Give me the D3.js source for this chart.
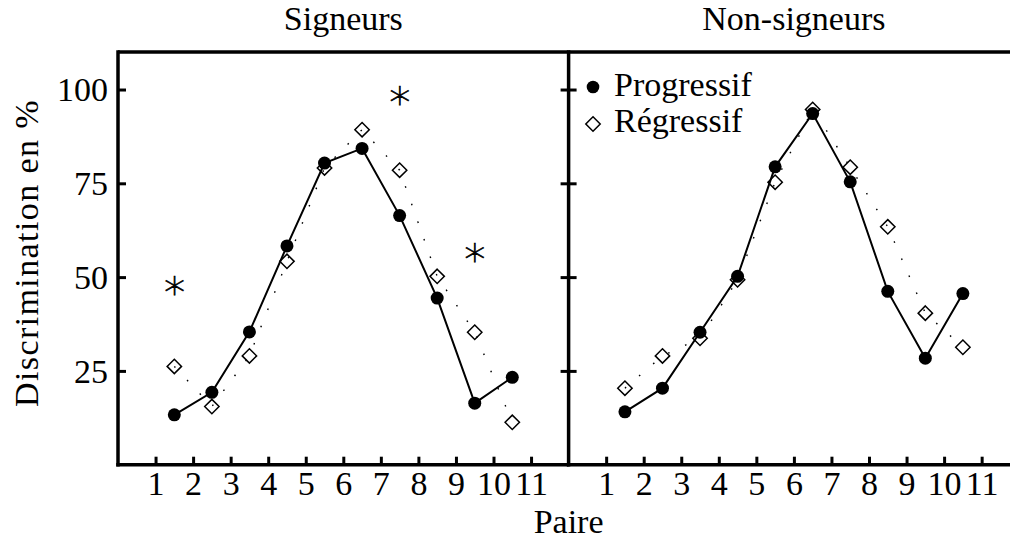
<!DOCTYPE html>
<html>
<head>
<meta charset="utf-8">
<script src="https://cdn.jsdelivr.net/npm/d3@7"></script>
<style>
  html, body { margin: 0; padding: 0; background: #fff; }
  svg { display: block; font-family: "Liberation Serif", "DejaVu Serif", serif; }
</style>
</head>
<body>
<svg id="chart" width="1010" height="540"></svg>
<script>
// ---- data ----
const panelTitles = ["Signeurs", "Non-signeurs"];
const tickLabels = [1, 2, 3, 4, 5, 6, 7, 8, 9, 10, 11];
const yTickValues = [25, 50, 75, 100];
const pairPositions = [1.5, 2.5, 3.5, 4.5, 5.5, 6.5, 7.5, 8.5, 9.5, 10.5];
const seriesNames = ["Progressif", "Régressif"];
const signeursProgressif = [13.3, 19.3, 35.4, 58.3, 80.4, 84.3, 66.4, 44.4, 16.4, 23.3];
const signeursRegressif = [26.2, 15.5, 29.0, 54.2, 79.1, 89.3, 78.5, 50.2, 35.3, 11.3];
const nonSigneursProgressif = [14.1, 20.4, 35.3, 50.2, 79.4, 93.6, 75.4, 46.2, 28.4, 45.6];
const nonSigneursRegressif = [20.4, 29.0, 33.7, 49.3, 75.3, 94.7, 79.3, 63.4, 40.4, 31.3];
const signeursAsteriskPairs = [1.5, 7.5, 9.5];
const signeursAsteriskValues = [48.1, 98.7, 56.8];
const xLabel = "Paire";
const yLabel = "Discrimination en %";

// ---- layout ----
const svg = d3.select("#chart");
const W = 1010, H = 540;
const plotTop = 52, plotBottom = 464.7;
const panelW = 450.6;
const left0 = 118;
const fontSize = 34;
const axisW = 3.5;

const y = d3.scaleLinear().domain([0, 110]).range([plotBottom, plotTop]);

const panels = [
  { title: panelTitles[0], x0: left0, prog: signeursProgressif, reg: signeursRegressif,
    stars: signeursAsteriskPairs.map((p, i) => ({ pair: p, value: signeursAsteriskValues[i] })) },
  { title: panelTitles[1], x0: left0 + panelW, prog: nonSigneursProgressif, reg: nonSigneursRegressif, stars: [] }
];

function diamondPath(cx, cy, r) {
  return `M${cx},${cy - r}L${cx + r},${cy}L${cx},${cy + r}L${cx - r},${cy}Z`;
}

panels.forEach((p, pi) => {
  const x = d3.scaleLinear().domain([0, 12]).range([p.x0, p.x0 + panelW]);
  const g = svg.append("g");

  const xa = g.append("g").attr("transform", `translate(0,${plotBottom})`)
    .call(d3.axisBottom(x).tickValues(tickLabels).tickSizeInner(-8).tickSizeOuter(0).tickPadding(0).tickFormat(d3.format("d")));
  xa.select(".domain").remove();
  xa.selectAll(".tick line").attr("stroke", "#000").attr("stroke-width", 3);
  xa.selectAll(".tick text").attr("y", 30.5).attr("dy", 0)
    .attr("font-size", fontSize).attr("font-family", "Liberation Serif, serif").attr("fill", "#000");

  if (pi === 0) {
    const ya = g.append("g").attr("transform", `translate(${p.x0},0)`)
      .call(d3.axisLeft(y).tickValues(yTickValues).tickSizeInner(-8).tickSizeOuter(0).tickPadding(10));
    ya.select(".domain").remove();
    ya.selectAll(".tick line").attr("stroke", "#000").attr("stroke-width", 3);
    ya.selectAll(".tick text").attr("dy", "0.33em")
      .attr("font-size", fontSize).attr("font-family", "Liberation Serif, serif").attr("fill", "#000");
  } else {
    const ya = g.append("g").attr("transform", `translate(${p.x0},0)`)
      .call(d3.axisLeft(y).tickValues(yTickValues).tickSizeInner(8).tickSizeOuter(0).tickFormat(""));
    ya.select(".domain").remove();
    ya.selectAll(".tick line").attr("stroke", "#000").attr("stroke-width", 3).attr("x2", -8).attr("x1", 8);
  }

  g.append("line").attr("x1", p.x0).attr("x2", pi === 0 ? p.x0 + panelW : W)
    .attr("y1", plotTop).attr("y2", plotTop).attr("stroke", "#000").attr("stroke-width", axisW);
  g.append("line").attr("x1", p.x0 - axisW / 2).attr("x2", pi === 0 ? p.x0 + panelW : W)
    .attr("y1", plotBottom).attr("y2", plotBottom).attr("stroke", "#000").attr("stroke-width", axisW);
  g.append("line").attr("x1", p.x0).attr("x2", p.x0)
    .attr("y1", plotTop - axisW / 2).attr("y2", plotBottom + axisW / 2).attr("stroke", "#000").attr("stroke-width", axisW);

  g.append("text").attr("x", p.x0 + panelW / 2).attr("y", 30)
    .attr("text-anchor", "middle").attr("font-size", fontSize).text(p.title);

  const line = d3.line().x((d, i) => x(pairPositions[i])).y(d => y(d));

  g.append("path").attr("d", line(p.reg)).attr("fill", "none").attr("stroke", "#000")
    .attr("stroke-width", 1.4).attr("stroke-dasharray", "1.6,17");
  g.selectAll(".dia").data(p.reg).enter().append("path")
    .attr("d", (d, i) => diamondPath(x(pairPositions[i]), y(d), 7.2))
    .attr("fill", "none").attr("stroke", "#000").attr("stroke-width", 1.5);

  g.append("path").attr("d", line(p.prog)).attr("fill", "none").attr("stroke", "#000").attr("stroke-width", 2);
  g.selectAll(".dot").data(p.prog).enter().append("circle")
    .attr("cx", (d, i) => x(pairPositions[i])).attr("cy", d => y(d)).attr("r", 6.5).attr("fill", "#000");

  g.selectAll(".star").data(p.stars).enter().append("text")
    .attr("transform", d => `translate(${x(d.pair)},${y(d.value)}) rotate(0.01)`)
    .attr("dy", "0.34em")
    .attr("text-anchor", "middle").attr("font-size", 42).attr("font-weight", 200)
    .attr("font-family", "DejaVu Sans, sans-serif")
    .attr("fill", "#000").attr("stroke", "#000").attr("stroke-width", 0.7)
    .text("∗");

  if (pi === 1) {
    const lx = x(0.65);
    const lg = g.append("g");
    lg.append("circle").attr("cx", lx).attr("cy", 87).attr("r", 6.3).attr("fill", "#000");
    lg.append("text").attr("x", lx + 21).attr("y", 96).attr("font-size", fontSize).text(seriesNames[0]);
    lg.append("path").attr("d", diamondPath(lx, 124, 7.2)).attr("fill", "none").attr("stroke", "#000").attr("stroke-width", 1.5);
    lg.append("text").attr("x", lx + 21).attr("y", 132).attr("font-size", fontSize).text(seriesNames[1]);
  }
});

svg.append("text").attr("x", left0 + panelW).attr("y", 533).attr("text-anchor", "middle")
  .attr("font-size", fontSize).text(xLabel);
svg.append("text").attr("transform", `translate(38,253) rotate(-90)`).attr("text-anchor", "middle")
  .attr("font-size", fontSize).attr("letter-spacing", 1.4).text(yLabel);
</script>
</body>
</html>
